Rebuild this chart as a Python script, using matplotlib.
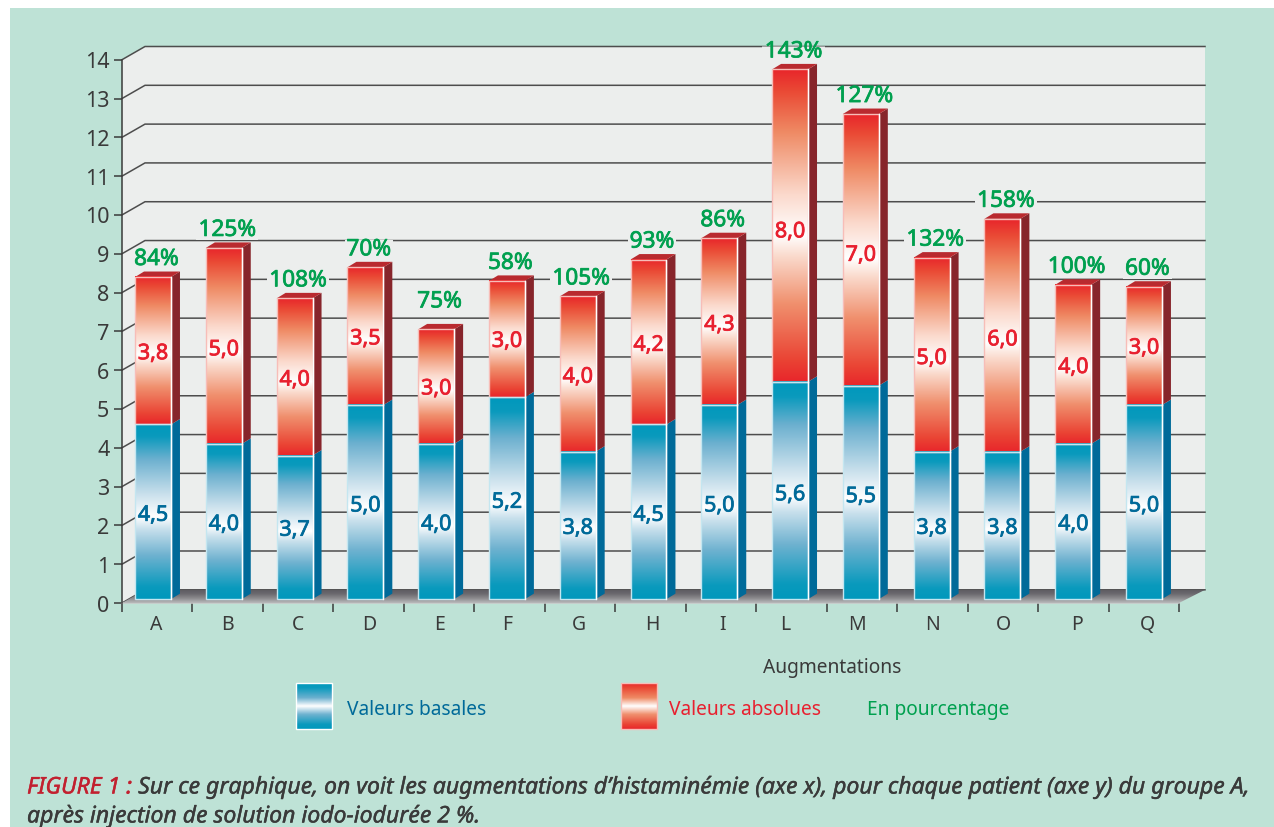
import matplotlib
matplotlib.use("Agg")
import matplotlib.pyplot as plt
import matplotlib.patheffects as pe
import matplotlib.transforms as mtrans
import numpy as np
from matplotlib.colors import LinearSegmentedColormap
from matplotlib.patches import Polygon, Rectangle

patients = ["A", "B", "C", "D", "E", "F", "G", "H", "I", "L", "M", "N", "O", "P", "Q"]
basal_heights = [4.5, 4.0, 3.7, 5.0, 4.0, 5.2, 3.8, 4.5, 5.0, 5.6, 5.5, 3.8, 3.8, 4.0, 5.0]
total_heights = [8.3, 9.05, 7.75, 8.55, 6.95, 8.2, 7.8, 8.75, 9.3, 13.65, 12.5, 8.8, 9.8, 8.1, 8.05]
basal_labels = ["4,5", "4,0", "3,7", "5,0", "4,0", "5,2", "3,8", "4,5", "5,0", "5,6", "5,5", "3,8", "3,8", "4,0", "5,0"]
abs_labels = ["3,8", "5,0", "4,0", "3,5", "3,0", "3,0", "4,0", "4,2", "4,3", "8,0", "7,0", "5,0", "6,0", "4,0", "3,0"]
pct_labels = ["84%", "125%", "108%", "70%", "75%", "58%", "105%", "93%", "86%", "143%", "127%", "132%", "158%", "100%", "60%"]
y_ticks = list(range(15))

W, H = 1274, 828
MINT, WALL, INK = "#BEE2D6", "#ECEEED", "#3A3A3A"
BLUE, RED, GREEN = "#006A99", "#E8202F", "#00A04F"
plt.rcParams["font.family"] = "Noto Sans"

def heavy(color, w=0.55):
    return [pe.withStroke(linewidth=w, foreground=color)]

fig = plt.figure(figsize=(W / 100, H / 100), dpi=100, facecolor="white")
fig.add_artist(Rectangle((10 / W, 0), 1 - 10 / W, 1 - 9 / H, transform=fig.transFigure,
                         facecolor=MINT, edgecolor="none", zorder=-10))
L, R, T, B = 122, 1179, 60.7, 604
ax = fig.add_axes([L / W, 1 - B / H, (R - L) / W, (B - T) / H])
ax.patch.set_visible(False)
ax.set_xlim(0, 15)
ax.set_ylim(0, 14)
sx, sy = (R - L) / 15, (B - T) / 14
def X(px): return (px - L) / sx
def Y(py): return (B - py) / sy

dx, dy = 23 / sx, 13.2 / sy                # wall / floor depth, left
dxr = 26 / sx                              # depth, right
bdx, bdy = 9 / sx, 5.5 / sy                # bar depth
base = 0.1
bar_left, bar_w, bar_step = 0.185, 0.51, 1.0045

wall = Polygon([(0, 0), (dx, dy), (15 + dxr, dy), (15 + dxr, 14 + dy), (dx, 14 + dy), (0, 14)],
               closed=True, fc=WALL, ec="none", zorder=1, clip_on=False)
ax.add_patch(wall)
for v in y_ticks:
    ax.plot([0, dx, 15 + dxr], [v, v + dy, v + dy], color="#4D4D4D", lw=1.1, zorder=2,
            clip_on=False, solid_joinstyle="miter")

floor_pts = [(0, 0), (15, 0), (15 + dxr, dy), (dx, dy)]
floor_cm = LinearSegmentedColormap.from_list("floor", ["#B8B8BA", "#8C8B8E", "#6B696E", "#5C5A60"])
fim = ax.imshow(np.linspace(0, 1, 32).reshape(-1, 1), extent=[0, 15 + dxr, 0, dy], origin="lower",
                aspect="auto", cmap=floor_cm, zorder=3)
floor = Polygon(floor_pts, closed=True, transform=ax.transData, fc="none", ec="none", clip_on=False)
ax.add_patch(floor)
fim.set_clip_box(fig.bbox)
fim.set_clip_path(floor)

def grad(nodes):
    return LinearSegmentedColormap.from_list("g", nodes, N=256)
pos = [0, .07, .25, .40, .47, .60, .80, .93, 1]
red_cm = grad(list(zip(pos, ["#E8262B", "#EA4434", "#F0906E", "#FAD9CB", "#FFFFFF", "#FBD9CC", "#EF8A64", "#EA4A35", "#E8262B"])))
blue_cm = grad(list(zip(pos, ["#0098BC", "#0A9ABD", "#6FB2D0", "#C8E0EC", "#FFFFFF", "#C9E0EC", "#6CB0CF", "#0A9ABD", "#0098BC"])))
ramp = np.linspace(0, 1, 256).reshape(-1, 1)

def front(x0, y0, y1, cmap, edge, z):
    ax.imshow(ramp, extent=[x0, x0 + bar_w, y0, y1], origin="lower", aspect="auto",
              cmap=cmap, zorder=z, clip_on=False, interpolation="bilinear")
    ax.add_patch(Rectangle((x0, y0), bar_w, y1 - y0, fc="none", ec=edge, lw=1, zorder=z + .1, clip_on=False))
    ax.plot([x0 + bar_w] * 2, [y0, y1], color="white", lw=1, zorder=z + .2, clip_on=False)

for i, (b, t) in enumerate(zip(basal_heights, total_heights)):
    x0 = i * bar_step + bar_left
    x1 = x0 + bar_w
    z = 5
    b1, t1 = base + b, base + t
    ax.add_patch(Polygon([(x1, base), (x1 + bdx, base + bdy), (x1 + bdx, b1 + bdy), (x1, b1)],
                         fc=BLUE, ec="none", zorder=z, clip_on=False))
    ax.add_patch(Polygon([(x1, b1), (x1 + bdx, b1 + bdy), (x1 + bdx, t1 + bdy), (x1, t1)],
                         fc="#87252B", ec="none", zorder=z, clip_on=False))
    ax.add_patch(Polygon([(x0, t1), (x1, t1), (x1 + bdx, t1 + bdy), (x0 + bdx, t1 + bdy)],
                         fc="#B92A2F", ec="none", zorder=z, clip_on=False))
    front(x0, b1, t1, red_cm, "#F7BDB8", z + 1)
    front(x0, base, b1, blue_cm, "#C4E6F0", z + 1)

VAL_FS = 15.5
frac = 0.48
for i, (b, t) in enumerate(zip(basal_heights, total_heights)):
    xc = i * bar_step + bar_left + bar_w / 2
    ax.text(xc, base + b * frac, basal_labels[i], color=BLUE, fontsize=VAL_FS,
            ha="center", va="center", zorder=9, path_effects=heavy(BLUE))
    ax.text(xc, base + b + (t - b) * frac, abs_labels[i], color=RED, fontsize=VAL_FS,
            ha="center", va="center", zorder=9, path_effects=heavy(RED))

extra_gap = {"E": 10}
pct_texts = []
for i, t in enumerate(total_heights):
    xc = i * bar_step + bar_left + bar_w / 2 + 3.5 / sx
    gap = 17.5 + extra_gap.get(patients[i], 0)
    pct_texts.append(ax.text(xc, base + t + gap / sy, pct_labels[i], color=GREEN, fontsize=16.3,
                             ha="center", va="center", zorder=10, clip_on=False,
                             path_effects=heavy(GREEN)))

for s in ("top", "right"):
    ax.spines[s].set_visible(False)
ax.spines["left"].set_color(INK)
ax.spines["left"].set_linewidth(1.1)
ax.spines["left"].set_zorder(4)
ax.spines["bottom"].set_color("#C9C9C9")
ax.spines["bottom"].set_linewidth(1.1)
ax.set_yticks(y_ticks)
ax.set_xticks(np.arange(15) * bar_step + 0.49)
ax.set_xticklabels(patients)
ax.set_xticks(np.arange(16), minor=True)
ax.tick_params(axis="y", length=6, width=1.1, color=INK, labelcolor=INK, labelsize=15.5, pad=3)
ax.tick_params(axis="x", which="major", length=0, labelcolor=INK, labelsize=14, pad=8)
ax.tick_params(axis="x", which="minor", length=6.5, width=1.1, color=INK)
shift = mtrans.ScaledTranslation(0, 0.5 / 100, fig.dpi_scale_trans)
for lab in ax.get_yticklabels():
    lab.set_transform(lab.get_transform() + shift)
label_nudge = {"F": -3, "G": -2, "L": -8, "M": -7, "N": -3, "O": -2}
for lab, name in zip(ax.get_xticklabels(), patients):
    if name in label_nudge:
        lab.set_transform(lab.get_transform() + mtrans.ScaledTranslation(label_nudge[name] / 100, 0, fig.dpi_scale_trans))

def ftext(px, py, s, **kw):
    return fig.text(px / W, 1 - py / H, s, **kw)

ftext(832.5, 668, "Augmentations", color=INK, fontsize=13.8, ha="center", va="center")
ftext(347, 710, "Valeurs basales", color=BLUE, fontsize=13.8, ha="left", va="center")
ftext(669, 710, "Valeurs absolues", color=RED, fontsize=13.8, ha="left", va="center")
ftext(867, 710, "En pourcentage", color=GREEN, fontsize=13.8, ha="left", va="center")

for px, cm, edge in ((296, blue_cm, "white"), (621, red_cm, "#F7BDB8")):
    ext = [X(px), X(px + 36), Y(730), Y(684)]
    ax.imshow(ramp, extent=ext, origin="lower", aspect="auto", cmap=LinearSegmentedColormap.from_list(
        "s", [(0, cm(0.0)), (.1, cm(0.07)), (.32, cm(.25)), (.5, cm(.47)), (.68, cm(.8)), (.9, cm(.93)), (1, cm(1.0))]),
        zorder=5, clip_on=False)
    ax.add_patch(Rectangle((ext[0], ext[2]), ext[1] - ext[0], ext[3] - ext[2], fc="none", ec=edge, lw=1, zorder=6, clip_on=False))
ax.set_xlim(0, 15)
ax.set_ylim(0, 14)

cap_kw = dict(fontsize=16.55, fontstyle="italic", va="center", ha="left")
head = ftext(27, 788.5, "FIGURE 1 :", color="#C2202F", path_effects=heavy("#C2202F", 0.3), **cap_kw)
fig.canvas.draw()
rend = fig.canvas.get_renderer()
ext = head.get_window_extent(rend)
ftext(ext.x1 + 6, 788.5, "Sur ce graphique, on voit les augmentations d’histaminémie (axe x), pour chaque patient (axe y) du groupe A,",
      color=INK, path_effects=heavy(INK, 0.3), **cap_kw)
ftext(27, 817.5, "après injection de solution iodo-iodurée 2 %.", color=INK, path_effects=heavy(INK, 0.3), **cap_kw)

# gridlines stop short of the percentage labels, inside the wall only
inv = ax.transData.inverted()
for txt in pct_texts:
    bb = txt.get_window_extent(rend).expanded(1.08, 0.9)
    (a, c), (b, d) = inv.transform([(bb.x0, bb.y0), (bb.x1, bb.y1)])
    mask = Rectangle((a, c), b - a, d - c, fc=WALL, ec="none", zorder=4, clip_on=True)
    ax.add_patch(mask)
    mask.set_clip_box(None)
    mask.set_clip_path(wall)

fig.savefig("out.png", dpi=100, facecolor="white")
